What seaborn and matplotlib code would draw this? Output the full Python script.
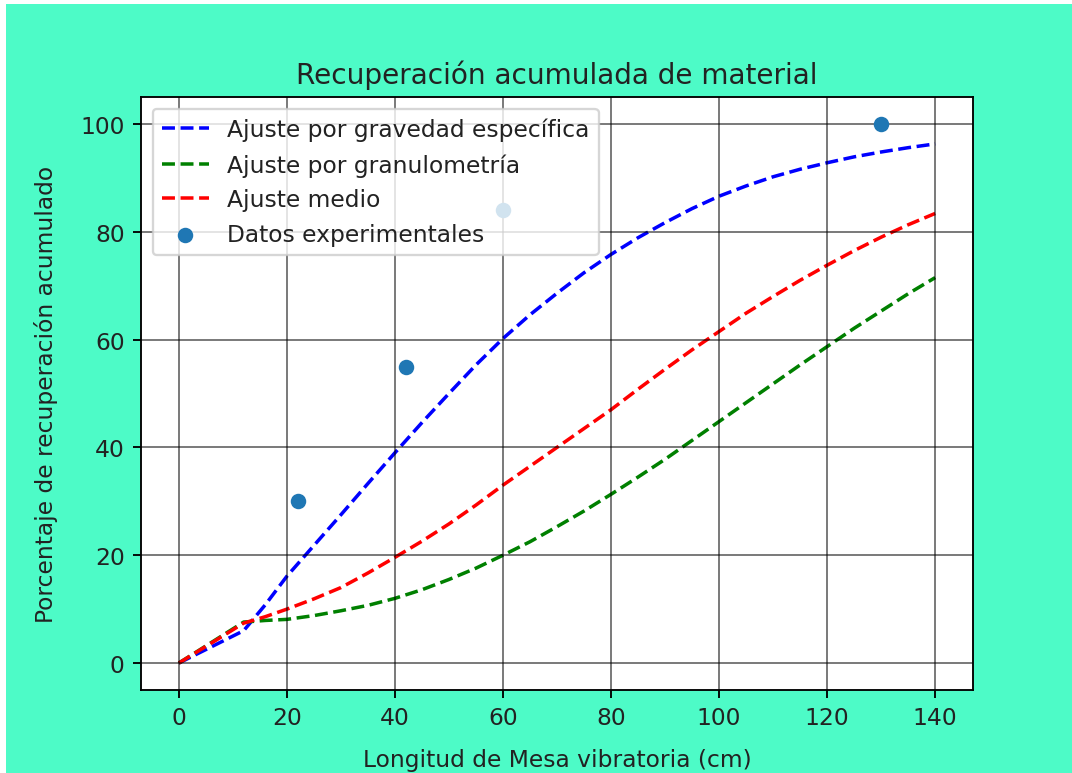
import matplotlib
matplotlib.use("Agg")
import matplotlib.pyplot as plt
from matplotlib.patches import Rectangle
import seaborn as sns

# Data
x_fit = [0, 12, 16, 20, 25, 30, 35, 40, 45, 50, 55, 60, 65, 70, 75, 80, 85, 90,
         95, 100, 105, 110, 115, 120, 125, 130, 135, 140]
ajuste_gravedad = [0, 6.0, 10.8, 16.1, 21.8, 27.5, 33.3, 39.0, 44.6, 50.0, 55.3, 60.2,
                   64.6, 68.6, 72.4, 75.8, 78.9, 81.7, 84.3, 86.6, 88.5, 90.2, 91.6,
                   92.8, 93.9, 94.8, 95.6, 96.3]
ajuste_granulometria = [0, 7.6, 7.9, 8.1, 8.8, 9.7, 10.7, 12.0, 13.6, 15.5, 17.6, 20.0,
                        22.5, 25.3, 28.2, 31.3, 34.5, 37.8, 41.3, 44.8, 48.3, 51.8, 55.3,
                        58.7, 62.1, 65.3, 68.5, 71.5]
ajuste_medio = [0, 7.4, 8.6, 10.0, 11.9, 14.0, 16.7, 19.6, 22.6, 25.8, 29.3, 33.0,
                36.5, 40.0, 43.5, 47.0, 50.8, 54.5, 58.1, 61.5, 64.9, 68.0, 71.0,
                73.8, 76.5, 79.0, 81.3, 83.4]

x_exp = [22, 42, 60, 130]
y_exp = [30, 55, 84, 100]

x_ticks = [0, 20, 40, 60, 80, 100, 120, 140]
y_ticks = [0, 20, 40, 60, 80, 100]

TEAL = "#4DFBC7"

DPI = 168
fig = plt.figure(figsize=(1072 / DPI, 774 / DPI), dpi=DPI, facecolor=TEAL)
# thin white frame strips seen on the top and left of the reference
fig.patches.append(Rectangle((0, 0), 6 / 1072, 1, transform=fig.transFigure,
                             facecolor="white", edgecolor="none", zorder=-1))
fig.patches.append(Rectangle((0, 1 - 5 / 774), 1, 5 / 774, transform=fig.transFigure,
                             facecolor="white", edgecolor="none", zorder=-1))

ax = fig.add_axes([141 / 1072, 1 - 691 / 774, (973 - 141) / 1072, (691 - 98) / 774])
ax.set_facecolor("white")

sns.lineplot(x=x_fit, y=ajuste_gravedad, ax=ax, color="b", linestyle="--",
             linewidth=1.5, label="Ajuste por gravedad específica")
sns.lineplot(x=x_fit, y=ajuste_granulometria, ax=ax, color="g", linestyle="--",
             linewidth=1.5, label="Ajuste por granulometría")
sns.lineplot(x=x_fit, y=ajuste_medio, ax=ax, color="r", linestyle="--",
             linewidth=1.5, label="Ajuste medio")
sns.scatterplot(x=x_exp, y=y_exp, ax=ax, color="#1f77b4", s=44, linewidth=0,
                label="Datos experimentales", zorder=3)

ax.set_xticks(x_ticks)
ax.set_yticks(y_ticks)
ax.margins(x=0.05, y=0.05)
ax.grid(True, color="black", alpha=0.55, linewidth=0.8)
ax.set_axisbelow(False)

ax.set_title("Recuperación acumulada de material", fontsize=12, color="#222222")
ax.set_xlabel("Longitud de Mesa vibratoria (cm)", fontsize=10, color="#222222",
              labelpad=8)
ax.set_ylabel("Porcentaje de recuperación acumulado", fontsize=10, color="#222222",
              labelpad=9.5)
ax.tick_params(labelsize=10, labelcolor="#222222")
for s in ax.spines.values():
    s.set_color("black")

leg = ax.legend(loc="upper left", fontsize=10)
for t in leg.get_texts():
    t.set_color("#222222")

fig.savefig("out.png", dpi=DPI, facecolor=TEAL)
